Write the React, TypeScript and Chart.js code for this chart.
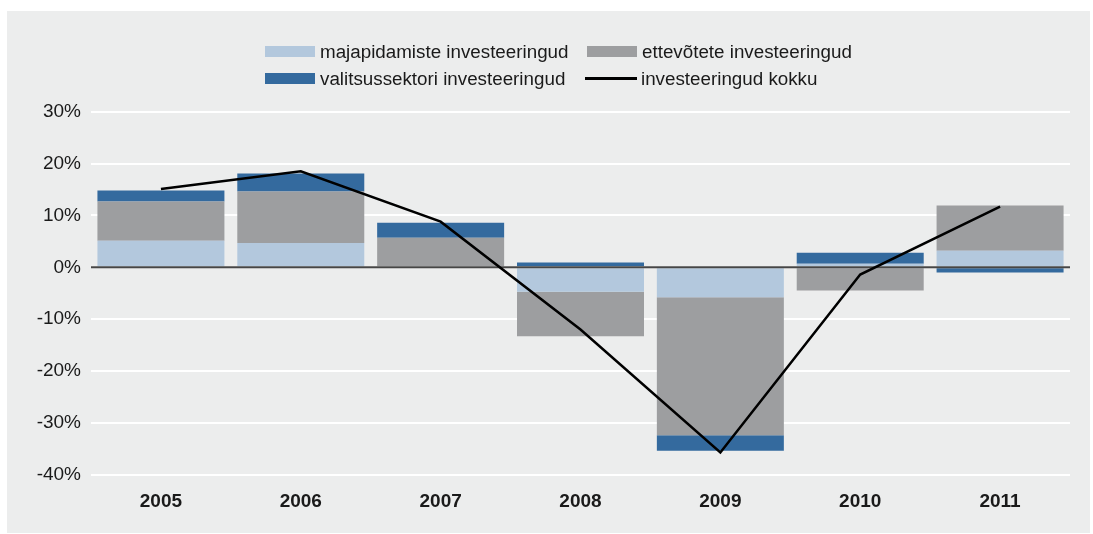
import React, { useEffect, useRef } from "react";
import { Chart, registerables } from "chart.js";

Chart.register(...registerables);

const categories = ["2005", "2006", "2007", "2008", "2009", "2010", "2011"];
const household = [5.1, 4.7, 0, -4.7, -5.8, 0.7, 3.2];
const business = [7.6, 9.9, 5.7, -8.6, -26.6, -4.5, 8.7];
const government = [2.1, 3.5, 2.9, 0.9, -3.0, 2.1, -1.0];
const total = [15.1, 18.5, 8.8, -12.0, -35.7, -1.4, 11.7];

const seriesNames = [
  "majapidamiste investeeringud",
  "ettevõtete investeeringud",
  "valitsussektori investeeringud",
  "investeeringud kokku",
];

const yMin = -40;
const yMax = 30;
const yStep = 10;

const COLORS = {
  household: "#B3C8DD",
  business: "#9D9EA0",
  government: "#346A9E",
  total: "#000000",
  panel: "#ECEDED",
  text: "#1a1a1a",
  zero: "#464646",
};

const FONT = "'Liberation Sans', Arial, Helvetica, sans-serif";

const zeroLinePlugin = {
  id: "zeroLine",
  beforeDatasetDraw(chart: any, args: any) {
    if (args.meta.type !== "line") return;
    const { ctx, chartArea } = chart;
    const y = chart.scales.y.getPixelForValue(0);
    ctx.save();
    ctx.strokeStyle = COLORS.zero;
    ctx.lineWidth = 2;
    ctx.beginPath();
    ctx.moveTo(chartArea.left, y);
    ctx.lineTo(chartArea.right, y);
    ctx.stroke();
    ctx.restore();
  },
};

function LegendItem({ kind, color, label }: { kind: "box" | "line"; color: string; label: string }) {
  return (
    <div style={{ display: "flex", alignItems: "center", height: 26.5 }}>
      {kind === "box" ? (
        <div style={{ width: 50, height: 11, background: color, marginRight: 5, flex: "none" }} />
      ) : (
        <div style={{ width: 52, height: 3, background: color, marginRight: 4, marginLeft: -2, flex: "none" }} />
      )}
      <span style={{ fontFamily: FONT, fontSize: 18.8, lineHeight: "19px", color: COLORS.text, whiteSpace: "nowrap" }}>
        {label}
      </span>
    </div>
  );
}

export default function App() {
  const canvasRef = useRef<HTMLCanvasElement | null>(null);

  useEffect(() => {
    if (!canvasRef.current) return;
    const chart = new Chart(canvasRef.current, {
      type: "bar",
      data: {
        labels: categories,
        datasets: [
          {
            type: "bar",
            label: seriesNames[0],
            data: household,
            backgroundColor: COLORS.household,
            order: 1,
            stack: "parts",
          },
          {
            type: "bar",
            label: seriesNames[1],
            data: business,
            backgroundColor: COLORS.business,
            order: 1,
            stack: "parts",
          },
          {
            type: "bar",
            label: seriesNames[2],
            data: government,
            backgroundColor: COLORS.government,
            order: 1,
            stack: "parts",
          },
          {
            type: "line",
            label: seriesNames[3],
            data: total,
            borderColor: COLORS.total,
            borderWidth: 2.5,
            pointRadius: 0,
            tension: 0,
            fill: false,
            order: 0,
            stack: "total",
          } as any,
        ],
      },
      options: {
        animation: false,
        responsive: false,
        devicePixelRatio: 1,
        layout: { padding: { top: 100.7, right: 20, bottom: 0, left: 0 } },
        datasets: {
          bar: { barPercentage: 0.908, categoryPercentage: 1 },
        } as any,
        plugins: {
          legend: { display: false },
          tooltip: { enabled: false },
        },
        scales: {
          x: {
            stacked: true,
            grid: { display: false, drawTicks: false },
            border: { display: false },
            ticks: {
              color: COLORS.text,
              font: { family: FONT, size: 19, weight: "bold" },
              padding: 16,
              maxRotation: 0,
            },
            afterFit(scale: any) {
              scale.height = 58.3;
            },
          },
          y: {
            stacked: true,
            min: yMin,
            max: yMax,
            grid: { color: "#ffffff", lineWidth: 2, drawTicks: false },
            border: { display: false },
            ticks: {
              stepSize: yStep,
              color: COLORS.text,
              font: { family: FONT, size: 19 },
              padding: 10,
              callback: (v: any) => `${v}%`,
            },
            afterFit(scale: any) {
              scale.width = 84;
            },
          },
        },
      },
      plugins: [zeroLinePlugin],
    });
    return () => chart.destroy();
  }, []);

  return (
    <div style={{ position: "absolute", left: 0, top: 0, width: 1093, height: 534, background: "#ffffff" }}>
      <div style={{ position: "absolute", left: 7, top: 11, width: 1083, height: 522, background: COLORS.panel }}>
        <canvas ref={canvasRef} width={1083} height={522} style={{ display: "block" }} />
        <div
          style={{
            position: "absolute",
            left: 258,
            top: 27.5,
            display: "grid",
            gridTemplateColumns: "322px auto",
          }}
        >
          <LegendItem kind="box" color={COLORS.household} label={seriesNames[0]} />
          <LegendItem kind="box" color={COLORS.business} label={seriesNames[1]} />
          <LegendItem kind="box" color={COLORS.government} label={seriesNames[2]} />
          <LegendItem kind="line" color={COLORS.total} label={seriesNames[3]} />
        </div>
      </div>
    </div>
  );
}
